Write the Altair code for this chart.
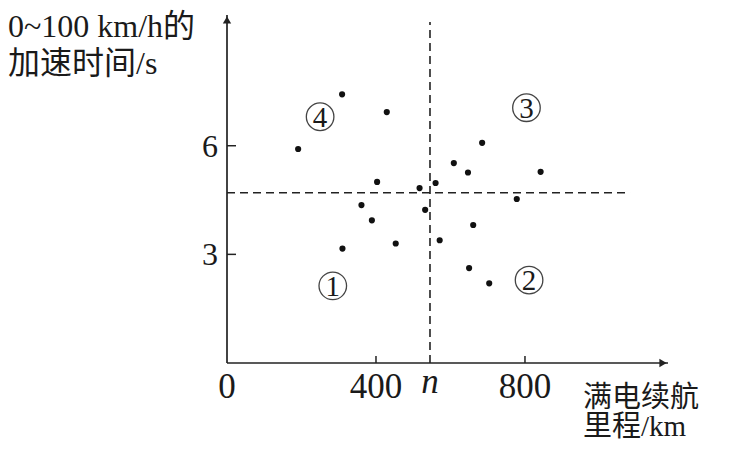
import altair as alt
import pandas as pd

# data
range_km = [309, 429, 191, 403, 517, 361, 389, 310, 453, 685, 609, 647, 842, 560, 778, 532, 661, 571, 650, 704]
accel_s = [7.42, 6.93, 5.91, 5.00, 4.83, 4.36, 3.94, 3.16, 3.30, 6.08, 5.52, 5.26, 5.28, 4.97, 4.53, 4.23, 3.81, 3.39, 2.62, 2.20]

n_value = 545
y_split = 4.70
x_max = 1184
y_max = 9.61
dash_x_end = 1082
dash_y_end = 9.42

x_ticks = [400, 800]
x_tick_labels = ["0", "400", "800"]
x_tick_label_vals = [0, 400, 800]
y_ticks = [3, 6]

quad_digits = ["4", "3", "1", "2"]
quad_x = [250, 804, 284, 811]
quad_y = [6.80, 7.05, 2.13, 2.29]

y_title_lines = ["0~100 km/h的", "加速时间/s"]
x_title_lines = ["满电续航", "里程/km"]

W, H = 441, 348
SERIF = "Liberation Serif, Noto Sans CJK SC"
INK = "#222222"
TXT = "#1a1a1a"
PXX = x_max / W   # data units per pixel (x)
PXY = y_max / H   # data units per pixel (y)

xs = alt.Scale(domain=[0, x_max], nice=False, zero=False)
ys = alt.Scale(domain=[0, y_max], nice=False, zero=False)
X = lambda f: alt.X(f, scale=xs, axis=None, title=None)
Y = lambda f: alt.Y(f, scale=ys, axis=None, title=None)

pts = pd.DataFrame({"x": range_km, "y": accel_s})
points = alt.Chart(pts).mark_circle(size=38, color="#111111", opacity=1).encode(
    x=X("x:Q"), y=Y("y:Q")
)

hlines = pd.DataFrame({"x": [0, 0], "x2": [x_max, dash_x_end], "y": [0, y_split]})
x_axis = alt.Chart(hlines.iloc[[0]]).mark_rule(color=INK, strokeWidth=1.7).encode(
    x=X("x:Q"), x2="x2:Q", y=Y("y:Q")
)
hdash = alt.Chart(hlines.iloc[[1]]).mark_rule(color=INK, strokeWidth=1.6, strokeDash=[8, 5]).encode(
    x=X("x:Q"), x2="x2:Q", y=Y("y:Q")
)
vlines = pd.DataFrame({"x": [0, n_value], "y": [0, 0], "y2": [y_max, dash_y_end]})
y_axis = alt.Chart(vlines.iloc[[0]]).mark_rule(color=INK, strokeWidth=1.7).encode(
    x=X("x:Q"), y=Y("y:Q"), y2="y2:Q"
)
vdash = alt.Chart(vlines.iloc[[1]]).mark_rule(color=INK, strokeWidth=1.6, strokeDash=[8, 5]).encode(
    x=X("x:Q"), y=Y("y:Q"), y2="y2:Q"
)

x_arrow = alt.Chart(pd.DataFrame({"x": [x_max - 5 * PXX], "y": [0]})).mark_point(
    shape="triangle-right", size=70, filled=True, color=INK, opacity=1
).encode(x=X("x:Q"), y=Y("y:Q"))
y_arrow = alt.Chart(pd.DataFrame({"x": [0], "y": [y_max - 5 * PXY]})).mark_point(
    shape="triangle-up", size=70, filled=True, color=INK, opacity=1
).encode(x=X("x:Q"), y=Y("y:Q"))

xt = pd.DataFrame({"v": x_ticks, "y": [0, 0], "y2": [7 * PXY] * 2})
x_tick_marks = alt.Chart(xt).mark_rule(color=INK, strokeWidth=1.5).encode(
    x=X("v:Q"), y=Y("y:Q"), y2="y2:Q"
)
yt = pd.DataFrame({"v": y_ticks, "x": [0, 0], "x2": [9 * PXX] * 2})
y_tick_marks = alt.Chart(yt).mark_rule(color=INK, strokeWidth=1.5).encode(
    y=Y("v:Q"), x=X("x:Q"), x2="x2:Q"
)

xl = pd.DataFrame({"v": x_tick_label_vals, "t": x_tick_labels, "z": [0, 0, 0]})
x_labels = alt.Chart(xl).mark_text(
    font=SERIF, fontSize=35, color=TXT, baseline="middle", align="center", dy=24
).encode(x=X("v:Q"), y=Y("z:Q"), text="t:N")

n_label = alt.Chart(pd.DataFrame({"v": [n_value], "t": ["n"], "z": [0]})).mark_text(
    font=SERIF, fontSize=35, fontStyle="italic", color=TXT, baseline="middle", align="center", dy=19
).encode(x=X("v:Q"), y=Y("z:Q"), text="t:N")

yl = pd.DataFrame({"v": y_ticks, "t": [str(v) for v in y_ticks], "z": [0, 0]})
y_labels = alt.Chart(yl).mark_text(
    font=SERIF, fontSize=32, color=TXT, baseline="middle", align="right", dx=-9, dy=1
).encode(y=Y("v:Q"), x=X("z:Q"), text="t:N")

qd = pd.DataFrame({"x": quad_x, "y": quad_y, "d": quad_digits})
quad_circles = alt.Chart(qd).mark_point(
    shape="circle", size=760, filled=False, color="#444444", strokeWidth=1.3, opacity=1
).encode(x=X("x:Q"), y=Y("y:Q"))
quad_text = alt.Chart(qd).mark_text(
    font=SERIF, fontSize=29, color=TXT, baseline="middle", align="center", dy=1
).encode(x=X("x:Q"), y=Y("y:Q"), text="d:N")

ytitles = pd.DataFrame({
    "t": y_title_lines,
    "x": [-219 * PXX, -219 * PXX],
    "y": [y_max - 12 * PXY, y_max - 49 * PXY],
})
y_title_text = alt.Chart(ytitles).mark_text(
    font=SERIF, fontSize=32, color=TXT, baseline="middle", align="left"
).encode(x=X("x:Q"), y=Y("y:Q"), text="t:N")

xtitles = pd.DataFrame({
    "t": x_title_lines,
    "x": [356 * PXX, 356 * PXX],
    "y": [y_max - 383 * PXY, y_max - 412 * PXY],
})
x_title_text = alt.Chart(xtitles).mark_text(
    font=SERIF, fontSize=29, color=TXT, baseline="middle", align="left"
).encode(x=X("x:Q"), y=Y("y:Q"), text="t:N")

chart = alt.layer(
    hdash, vdash, x_axis, y_axis, x_arrow, y_arrow, x_tick_marks, y_tick_marks,
    x_labels, n_label, y_labels, quad_circles, quad_text, points, y_title_text, x_title_text,
).properties(
    width=W, height=H,
    autosize=alt.AutoSizeParams(type="none"),
    padding={"left": 219, "top": 7, "right": 53, "bottom": 78},
).configure_view(strokeWidth=0)

chart.save("out.html", embed_options={"renderer": "svg", "actions": False})
